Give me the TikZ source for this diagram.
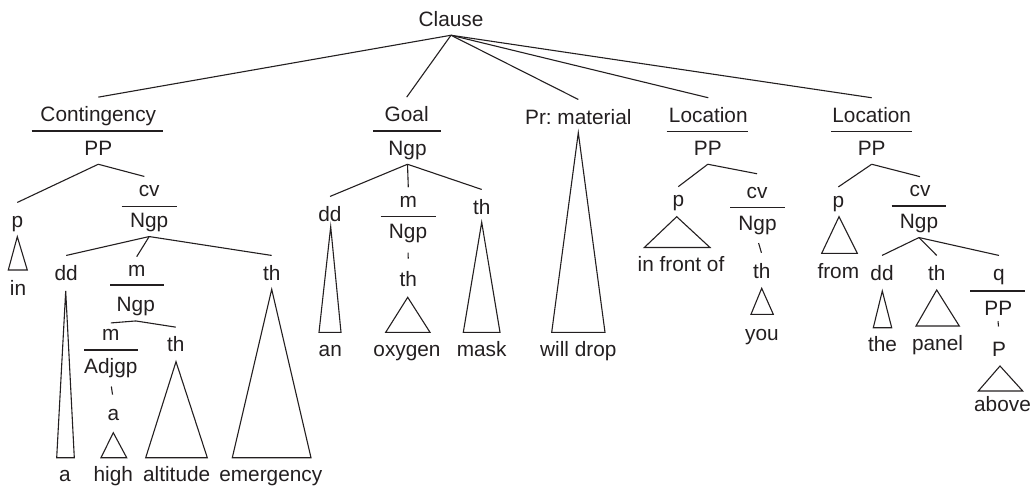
\documentclass[tikz,border=0pt]{standalone}
\usepackage{fontspec}
\setmainfont{Liberation Sans}
\definecolor{ink}{RGB}{35,31,32}
\frenchspacing
\begin{document}
\begin{tikzpicture}[x=0.5pt,y=-0.5pt,line width=0.55pt,color=ink,
  lbl/.style={anchor=base,inner xsep=0pt,inner ysep=2.15pt,text height=9.85pt,text depth=2.2pt,
    text=ink,font=\fontsize{10.4pt}{12pt}\selectfont},
  xh/.style={text height=7.6pt},
  conn/.style={draw=ink}]
\useasboundingbox (0,0) rectangle (1034,487);
% ---------- labels ----------
\node[lbl] (clause) at (451,26) {Clause};
% Contingency
\node[lbl] (cont) at (98.3,121.7) {Contingency};
\node[lbl] (contPP) at (98.3,155) {PP};
\node[lbl] (cP) at (17.3,227) {p};
\node[lbl] (wIn) at (18,295) {in};
\node[lbl,text height=6.7pt] (cCv) at (149.2,196) {cv};
\node[lbl] (cNgp) at (149.2,227.3) {Ngp};
\node[lbl] (cDd) at (66.2,280) {dd};
\node[lbl] (wA) at (65,481) {a};
\node[lbl,xh] (cM) at (136.7,276.7) {m};
\node[lbl] (cMNgp) at (135.8,311.7) {Ngp};
\node[lbl] (cTh) at (271.7,280) {th};
\node[lbl] (wEmergency) at (270.8,481) {emergency};
\node[lbl,xh] (cMM) at (110.8,340) {m};
\node[lbl] (cAdj) at (110.8,373.3) {Adjgp};
\node[lbl,xh] (cA) at (113.3,420) {a};
\node[lbl] (wHigh) at (113.3,481) {high};
\node[lbl] (cMTh) at (175.8,351.7) {th};
\node[lbl] (wAltitude) at (176.7,481) {altitude};
% Goal
\node[lbl] (goal) at (406.7,121.7) {Goal};
\node[lbl] (goalNgp) at (407.5,155) {Ngp};
\node[lbl] (gDd) at (330,221) {dd};
\node[lbl] (wAn) at (330.3,356) {an};
\node[lbl,xh] (gM) at (408.3,207.3) {m};
\node[lbl] (gMNgp) at (408,238.3) {Ngp};
\node[lbl] (gTh2) at (408.3,286.7) {th};
\node[lbl] (wOxygen) at (407,356) {oxygen};
\node[lbl] (gTh) at (481.7,214) {th};
\node[lbl] (wMask) at (481.7,356) {mask};
% Process
\node[lbl] (pr) at (578.3,124) {Pr: material};
\node[lbl] (wWillDrop) at (578.3,356) {will drop};
% Location 1
\node[lbl] (loca) at (708.3,122.3) {Location};
\node[lbl] (locaPP) at (707.8,155) {PP};
\node[lbl,xh] (aP) at (678.3,206.7) {p};
\node[lbl] (wInFrontOf) at (681,271) {in front of};
\node[lbl] (aCv) at (757,198.3) {cv};
\node[lbl] (aNgp) at (757.5,230) {Ngp};
\node[lbl] (aTh) at (761.7,278.3) {th};
\node[lbl] (wYou) at (762,340) {you};
% Location 2
\node[lbl] (locb) at (871.7,122.3) {Location};
\node[lbl] (locbPP) at (871.7,155) {PP};
\node[lbl,xh] (bP) at (838.3,207) {p};
\node[lbl] (wFrom) at (838.3,278.3) {from};
\node[lbl,xh] (bCv) at (920,196.7) {cv};
\node[lbl] (bNgp) at (919,228.3) {Ngp};
\node[lbl] (bDd) at (882,280) {dd};
\node[lbl] (wThe) at (882.5,351.7) {the};
\node[lbl] (bTh) at (936.7,280) {th};
\node[lbl] (wPanel) at (937.5,350.7) {panel};
\node[lbl] (bQ) at (999,280) {q};
\node[lbl] (bPP) at (998.3,315) {PP};
\node[lbl] (bP2) at (999,356) {P};
\node[lbl] (wAbove) at (1002.5,411.7) {above};
% ---------- function/class rules ----------
\draw (31.7,131) -- (162.7,131);
\draw (121.7,206.7) -- (176.7,206.7);
\draw (110,285) -- (164,285);
\draw (84,350) -- (138.3,350);
\draw (373.3,131) -- (440.7,131);
\draw (380.7,216.7) -- (435.7,216.7);
\draw (666.7,131.7) -- (748.3,131.7);
\draw (730,207.3) -- (785,207.3);
\draw (831,131.7) -- (911.7,131.7);
\draw (891.7,206) -- (946,206);
\draw (970,291) -- (1025,291);
% ---------- connectors ----------
\draw[conn] (clause.south) -- (cont.north);
\draw[conn] (clause.south) -- (goal.north);
\draw[conn] (clause.south) -- (pr.north);
\draw[conn] (clause.south) -- (loca.north);
\draw[conn] (clause.south) -- (locb.north);
\draw[conn] (contPP.south) -- (cP.north);
\draw[conn,shorten >=2.5pt] (contPP.south) -- (cCv.north);
\draw[conn] (cNgp.south) -- (cDd.north);
\draw[conn] (cNgp.south) -- (cM.north);
\draw[conn] (cNgp.south) -- (cTh.north);
\draw[conn] (cMNgp.south) -- ([yshift=-1.5pt]cMM.north);
\draw[conn] (cMNgp.south) -- (cMTh.north);
\draw[conn,shorten <=2pt,shorten >=2.7pt] (cAdj.south) -- (cA.north);
\draw[conn] (goalNgp.south) -- (gDd.north);
\draw[conn] (goalNgp.south) -- (gM.north);
\draw[conn] (goalNgp.south) -- (gTh.north);
\draw[conn,shorten <=2.5pt,shorten >=1.8pt] (gMNgp.south) -- (gTh2.north);
\draw[conn] (locaPP.south) -- (aP.north);
\draw[conn] (locaPP.south) -- (aCv.north);
\draw[conn,shorten <=2pt,shorten >=0.5pt] (aNgp.south) -- (aTh.north);
\draw[conn] (locbPP.south) -- (bP.north);
\draw[conn] (locbPP.south) -- (bCv.north);
\draw[conn] (bNgp.south) -- (bDd.north);
\draw[conn] (bNgp.south) -- (bTh.north);
\draw[conn] (bNgp.south) -- (bQ.north);
\draw[conn,shorten <=-1.5pt,shorten >=2.5pt] (bPP.south) -- (bP2.north);
% ---------- triangles ----------
\draw (17.3,236.7) -- (8.3,270) -- (27.3,270) -- cycle;
\draw (65.7,291) -- (56.7,457.7) -- (74.3,457.7) -- cycle;
\draw (113.3,432.7) -- (101,457.7) -- (126.7,457.7) -- cycle;
\draw (176,361.7) -- (145.7,457.7) -- (207.3,457.7) -- cycle;
\draw (271.7,289.3) -- (232.3,457.7) -- (311,457.7) -- cycle;
\draw (330.7,226.7) -- (319,332.3) -- (341,332.3) -- cycle;
\draw (407.7,297.3) -- (385.7,332.3) -- (430,332.3) -- cycle;
\draw (481.7,222.3) -- (463.3,332.3) -- (500,332.3) -- cycle;
\draw (578.3,132.7) -- (551.7,332.3) -- (605,332.3) -- cycle;
\draw (676.7,216.7) -- (644.3,247.5) -- (710,247.5) -- cycle;
\draw (761.7,288.3) -- (751,314.3) -- (773.3,314.3) -- cycle;
\draw (839,216.7) -- (821.7,253.3) -- (857.3,253.3) -- cycle;
\draw (882.3,291) -- (873.3,327.7) -- (891.7,327.7) -- cycle;
\draw (936.7,290) -- (916,326) -- (959.3,326) -- cycle;
\draw (1000,366) -- (978.3,391) -- (1022.7,391) -- cycle;
\end{tikzpicture}
\end{document}
